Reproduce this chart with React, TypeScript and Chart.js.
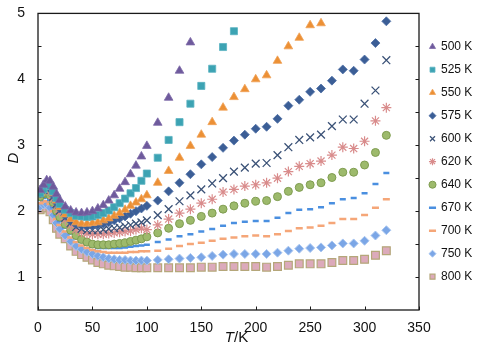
import React, { useEffect, useRef } from 'react';
import { Chart, registerables } from 'chart.js';
Chart.register(...registerables);

// Temperature grid (K)
const temperatures = [2, 5, 8, 11, 14, 17, 20,
  25, 30, 35, 40, 45, 50, 55, 60, 65, 70, 75, 80, 85, 90, 95, 100,
  110, 120, 130, 140, 150, 160, 170, 180, 190, 200, 210, 220, 230, 240, 250, 260, 270, 280, 290, 300, 310, 320];

const seriesLabels = ['500 K', '525 K', '550 K', '575 K', '600 K', '620 K', '640 K', '670 K', '700 K', '750 K', '800 K'];

const d500 = [2.32, 2.40, 2.47, 2.46, 2.37, 2.26, 2.17,
  2.07, 2.01, 1.98, 1.97, 1.98, 2.00, 2.04, 2.09, 2.16, 2.24, 2.34, 2.44, 2.56, 2.69, 2.83, 2.99,
  3.34, 3.72, 4.13, 4.56, null, null, null, null, null, null, null, null, null, null, null, null, null, null, null, null, null, null];
const d525 = [2.27, 2.33, 2.39, 2.38, 2.30, 2.20, 2.11,
  2.02, 1.97, 1.93, 1.92, 1.91, 1.92, 1.94, 1.97, 2.01, 2.06, 2.12, 2.19, 2.27, 2.35, 2.46, 2.57,
  2.81, 3.08, 3.35, 3.63, 3.90, 4.16, 4.49, 4.73, null, null, null, null, null, null, null, null, null, null, null, null, null, null];
const d550 = [2.27, 2.32, 2.38, 2.37, 2.27, 2.16, 2.06,
  1.95, 1.88, 1.83, 1.81, 1.81, 1.82, 1.83, 1.86, 1.89, 1.93, 1.97, 2.02, 2.08, 2.13, 2.18, 2.24,
  2.43, 2.61, 2.81, 2.99, 3.16, 3.35, 3.57, 3.73, 3.85, 4.00, 4.06, 4.28, 4.50, 4.63, 4.82, 4.85, null, null, null, null, null, null];
const d575 = [2.27, 2.32, 2.36, 2.34, 2.24, 2.13, 2.04,
  1.93, 1.85, 1.80, 1.78, 1.77, 1.78, 1.79, 1.81, 1.83, 1.86, 1.89, 1.92, 1.96, 2.00, 2.04, 2.08,
  2.16, 2.30, 2.43, 2.56, 2.71, 2.82, 2.96, 3.07, 3.16, 3.25, 3.28, 3.40, 3.60, 3.69, 3.81, 3.86, 3.98, 4.15, 4.13, 4.30, 4.55, 4.88];
const d600 = [2.27, 2.32, 2.35, 2.33, 2.22, 2.11, 2.01,
  1.90, 1.82, 1.76, 1.73, 1.71, 1.71, 1.71, 1.72, 1.73, 1.74, 1.75, 1.77, 1.79, 1.81, 1.83, 1.86,
  1.94, 2.03, 2.15, 2.24, 2.33, 2.42, 2.50, 2.60, 2.66, 2.72, 2.73, 2.85, 2.97, 3.08, 3.12, 3.16, 3.29, 3.39, 3.39, 3.63, 3.83, 4.29];
const d620 = [2.27, 2.31, 2.33, 2.30, 2.19, 2.07, 1.98,
  1.87, 1.78, 1.72, 1.68, 1.66, 1.65, 1.65, 1.65, 1.66, 1.67, 1.68, 1.69, 1.70, 1.72, 1.74, 1.72,
  1.79, 1.88, 1.97, 2.03, 2.12, 2.18, 2.29, 2.33, 2.38, 2.40, 2.43, 2.50, 2.60, 2.68, 2.72, 2.76, 2.85, 2.97, 2.95, 3.06, 3.37, 3.57];
const d640 = [2.22, 2.26, 2.28, 2.24, 2.13, 2.00, 1.91,
  1.80, 1.71, 1.63, 1.57, 1.53, 1.50, 1.49, 1.49, 1.49, 1.50, 1.51, 1.52, 1.54, 1.56, 1.58, 1.61,
  1.67, 1.74, 1.81, 1.86, 1.92, 1.97, 2.03, 2.08, 2.12, 2.15, 2.16, 2.22, 2.30, 2.36, 2.40, 2.43, 2.51, 2.59, 2.59, 2.70, 2.89, 3.15];
const d670 = [2.17, 2.20, 2.21, 2.17, 2.06, 1.94, 1.85,
  1.75, 1.66, 1.59, 1.53, 1.49, 1.46, 1.44, 1.44, 1.44, 1.44, 1.44, 1.45, 1.46, 1.47, 1.48, 1.49,
  1.53, 1.57, 1.62, 1.65, 1.69, 1.73, 1.78, 1.82, 1.84, 1.85, 1.85, 1.90, 1.97, 2.02, 2.03, 2.06, 2.12, 2.18, 2.20, 2.27, 2.41, 2.58];
const d700 = [2.12, 2.15, 2.15, 2.11, 2.00, 1.88, 1.79,
  1.69, 1.60, 1.53, 1.48, 1.44, 1.41, 1.39, 1.38, 1.37, 1.37, 1.37, 1.37, 1.38, 1.38, 1.39, 1.39,
  1.40, 1.43, 1.47, 1.50, 1.52, 1.55, 1.58, 1.60, 1.62, 1.63, 1.62, 1.65, 1.70, 1.74, 1.75, 1.78, 1.82, 1.88, 1.88, 1.94, 2.05, 2.18];
const d750 = [2.07, 2.10, 2.10, 2.05, 1.94, 1.82, 1.73,
  1.63, 1.54, 1.47, 1.42, 1.38, 1.35, 1.32, 1.30, 1.28, 1.27, 1.26, 1.26, 1.25, 1.25, 1.25, 1.25,
  1.26, 1.27, 1.28, 1.29, 1.30, 1.32, 1.34, 1.35, 1.35, 1.35, 1.35, 1.37, 1.40, 1.43, 1.44, 1.45, 1.48, 1.51, 1.51, 1.55, 1.63, 1.71];
const d800 = [2.02, 2.05, 2.05, 1.99, 1.87, 1.74, 1.65,
  1.58, 1.47, 1.39, 1.34, 1.30, 1.26, 1.22, 1.20, 1.18, 1.17, 1.16, 1.15, 1.15, 1.14, 1.14, 1.14,
  1.14, 1.14, 1.14, 1.14, 1.15, 1.15, 1.16, 1.16, 1.16, 1.16, 1.15, 1.16, 1.18, 1.20, 1.20, 1.20, 1.22, 1.25, 1.25, 1.27, 1.33, 1.40];

const seriesValues = [d500, d525, d550, d575, d600, d620, d640, d670, d700, d750, d800];

const xTickValues = [0, 50, 100, 150, 200, 250, 300, 350];
const yTickValues = [1, 2, 3, 4, 5];
const yMinorTickValues = [1, 1.5, 2, 2.5, 3, 3.5, 4, 4.5];

const FONT = "'Liberation Sans', Arial, Helvetica, sans-serif";

const markerStyles = [
  { pointStyle: 'triangle', radius: 5, bg: '#6e5a9c', border: '#7d6aa8', bw: 0.8 },
  { pointStyle: 'rect', radius: 5, bg: '#3ca3b3', border: '#5ab3c1', bw: 0.8 },
  { pointStyle: 'triangle', radius: 5, bg: '#ec9035', border: '#f0a258', bw: 0.8 },
  { pointStyle: 'rectRot', radius: 4.5, bg: '#3b5e96', border: '#4f70a6', bw: 0.8 },
  { pointStyle: 'crossRot', radius: 5.5, bg: '#3c5378', border: '#3c5378', bw: 1.3 },
  { pointStyle: 'star', radius: 5, bg: '#d98c8c', border: '#d98c8c', bw: 1.2 },
  { pointStyle: 'circle', radius: 4, bg: '#9dba6c', border: '#7f9c50', bw: 1 },
  { pointStyle: 'line', radius: 3, bg: '#4a8fe0', border: '#4a8fe0', bw: 2.5 },
  { pointStyle: 'line', radius: 3.5, bg: '#f5a678', border: '#f5a678', bw: 2.5 },
  { pointStyle: 'rectRot', radius: 4.5, bg: '#7ba6e6', border: '#a9c6f0', bw: 1 },
  { pointStyle: 'rect', radius: 5.5, bg: '#dcaabb', border: '#b5a77a', bw: 1.2 },
];

export default function App() {
  const canvasRef = useRef<HTMLCanvasElement>(null);

  useEffect(() => {
    const canvas = canvasRef.current;
    if (!canvas) return;
    Chart.defaults.font.family = FONT;

    const datasets = seriesLabels.map((label, i) => {
      const s = markerStyles[i];
      return {
        label,
        data: temperatures
          .map((t, j) => ({ x: t, y: seriesValues[i][j] }))
          .filter((p) => p.y !== null && p.y !== undefined),
        showLine: false,
        pointStyle: s.pointStyle,
        pointRadius: s.radius,
        pointHoverRadius: s.radius,
        pointBackgroundColor: s.bg,
        pointBorderColor: s.border,
        pointBorderWidth: s.bw,
        backgroundColor: s.bg,
        borderColor: s.border,
        borderWidth: s.bw,
      };
    });

    const framePlugin = {
      id: 'frame',
      afterDraw(chart: any) {
        const { ctx, chartArea, scales } = chart;
        const { left, right, top, bottom } = chartArea;
        const x = scales.x;
        const y = scales.y;
        ctx.save();
        ctx.strokeStyle = '#1a1a1a';
        ctx.lineWidth = 1.3;
        ctx.strokeRect(left, top, right - left, bottom - top);
        ctx.lineWidth = 1;
        ctx.beginPath();
        for (const v of yMinorTickValues) {
          const py = Math.round(y.getPixelForValue(v)) + 0.5;
          ctx.moveTo(left, py);
          ctx.lineTo(left + 3.5, py);
          ctx.moveTo(right - 3.5, py);
          ctx.lineTo(right, py);
        }
        for (const v of xTickValues) {
          const px = Math.round(x.getPixelForValue(v)) + 0.5;
          ctx.moveTo(px, bottom);
          ctx.lineTo(px, bottom - 3.5);
        }
        ctx.stroke();

        // axis titles
        ctx.fillStyle = '#111';
        ctx.textBaseline = 'middle';
        ctx.textAlign = 'center';
        ctx.save();
        ctx.translate(14, 158);
        ctx.rotate(-Math.PI / 2);
        ctx.font = `italic 15px ${FONT}`;
        ctx.fillText('D', 0, 0);
        ctx.restore();

        ctx.textAlign = 'left';
        const italicFont = `italic 15px ${FONT}`;
        const normalFont = `15px ${FONT}`;
        ctx.font = italicFont;
        const wT = ctx.measureText('T').width;
        ctx.font = normalFont;
        const wK = ctx.measureText('/K').width;
        const cx = (left + right) / 2 + 8;
        const startX = cx - (wT + wK) / 2;
        ctx.font = italicFont;
        ctx.fillText('T', startX, 338);
        ctx.font = normalFont;
        ctx.fillText('/K', startX + wT, 338);
        ctx.restore();
      },
    };

    const chart = new Chart(canvas, {
      type: 'scatter',
      data: { datasets: datasets as any },
      options: {
        animation: false,
        responsive: true,
        maintainAspectRatio: false,
        layout: { padding: { top: 12, left: 0, right: 0, bottom: 0 } },
        plugins: {
          tooltip: { enabled: false },
          legend: {
            display: true,
            position: 'right',
            fullSize: false,
            maxWidth: 60,
            labels: {
              usePointStyle: true,
              boxWidth: 5,
              boxHeight: 5,
              padding: 11,
              color: '#111',
              font: { size: 12, family: FONT },
            },
          },
        },
        scales: {
          x: {
            type: 'linear',
            min: 0,
            max: 350,
            afterBuildTicks: (s: any) => {
              s.ticks = xTickValues.map((v) => ({ value: v }));
            },
            afterFit: (s: any) => {
              s.height = 41;
            },
            ticks: { font: { size: 14, family: FONT }, color: '#111', padding: 2, maxRotation: 0 },
            grid: { display: false },
            border: { display: false },
          },
          y: {
            type: 'linear',
            min: 0.5,
            max: 5,
            afterBuildTicks: (s: any) => {
              s.ticks = yTickValues.map((v) => ({ value: v }));
            },
            afterFit: (s: any) => {
              s.width = 38;
            },
            ticks: { font: { size: 14, family: FONT }, color: '#111', padding: 5 },
            grid: { display: false },
            border: { display: false },
          },
        },
      },
      plugins: [framePlugin],
    });

    return () => {
      chart.destroy();
    };
  }, []);

  return (
    <div style={{ position: 'fixed', left: 0, top: 0, width: 479, height: 351, background: '#fff' }}>
      <canvas ref={canvasRef} />
    </div>
  );
}
